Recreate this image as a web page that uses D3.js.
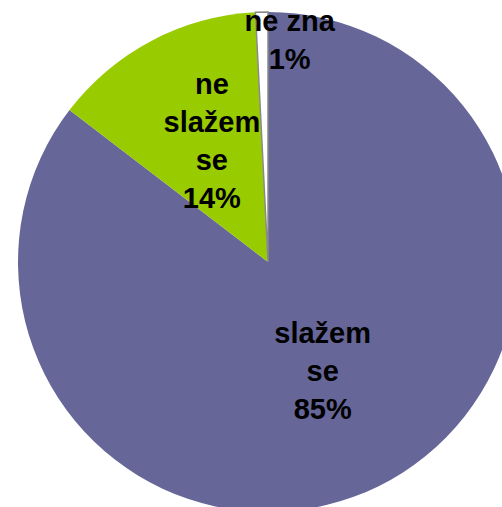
<!DOCTYPE html>
<html>
<head>
<meta charset="utf-8">
<script src="https://cdn.jsdelivr.net/npm/d3@7"></script>
<style>
  html, body { margin: 0; padding: 0; background: #fff; }
  svg { display: block; }
</style>
</head>
<body>
<svg id="chart" width="502" height="507"></svg>
<script>
// Data
const categories = ["slažem se", "ne slažem se", "ne zna"];
const values = [85.4, 13.8, 0.8];
const labelLines = [["slažem", "se"], ["ne", "slažem", "se"], ["ne zna"]];
const colors = ["#666699", "#99CC00", "#FFFFFF"];

const svg = d3.select("#chart");
const cx = 268, cy = 262, r = 250;
const g = svg.append("g").attr("transform", `translate(${cx},${cy})`);

const total = d3.sum(values);
const pie = d3.pie().sort(null).value(d => d)(values);
const arc = d3.arc().innerRadius(0).outerRadius(r);

g.selectAll("path.slice").data(pie).enter().append("path")
  .attr("class", "slice")
  .attr("d", arc)
  .attr("fill", (d, i) => colors[i])
  .attr("stroke", (d, i) => i === 2 ? "#8a8a8a" : "none")
  .attr("stroke-width", 1.5);

// label placement
const labelRadius = [0.53, 0.5, 0.85];
const labelDx = [-4, 2, 27];
const lineH = 38;

pie.forEach((d, i) => {
  const a = (d.startAngle + d.endAngle) / 2;
  const lr = labelRadius[i] * r;
  const x = Math.sin(a) * lr + labelDx[i];
  const y = -Math.cos(a) * lr;
  const lines = labelLines[i].concat([Math.round(values[i] / total * 100) + "%"]);
  const n = lines.length;
  const t = g.append("text")
    .attr("text-anchor", "middle")
    .attr("font-family", "Liberation Sans, Arial, sans-serif")
    .attr("font-weight", "bold")
    .attr("font-size", 29)
    .attr("fill", "#000");
  lines.forEach((ln, k) => {
    t.append("tspan")
      .attr("x", x)
      .attr("y", y + (k - (n - 1) / 2) * lineH)
      .text(ln);
  });
});
</script>
</body>
</html>
